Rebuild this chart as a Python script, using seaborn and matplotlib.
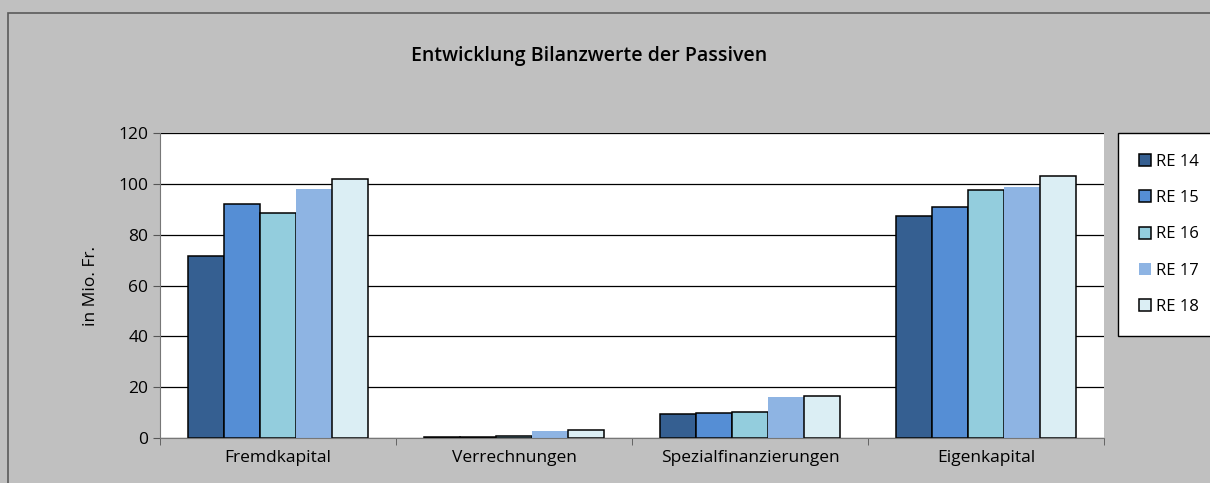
import pandas as pd
import matplotlib.pyplot as plt
import seaborn as sns
from matplotlib.patches import Rectangle

categories = ['Fremdkapital', 'Verrechnungen', 'Spezialfinanzierungen', 'Eigenkapital']
series = ['RE 14', 'RE 15', 'RE 16', 'RE 17', 'RE 18']
re14 = [71.6, 0.3, 9.4, 87.4]
re15 = [92.1, 0.2, 9.8, 91.0]
re16 = [88.6, 0.6, 10.2, 97.6]
re17 = [98.0, 2.7, 16.1, 98.8]
re18 = [102.0, 3.1, 16.5, 103.0]
colors = ['#355f91', '#558ed5', '#93cddd', '#8eb4e3', '#dbeef4']

rows = []
for name, vals in zip(series, [re14, re15, re16, re17, re18]):
    for cat, v in zip(categories, vals):
        rows.append({'Kategorie': cat, 'Jahr': name, 'Wert': v})
df = pd.DataFrame(rows)

sns.set_style('white')
plt.rcParams['font.family'] = ['Open Sans', 'DejaVu Sans']
plt.rcParams['text.color'] = 'black'
plt.rcParams['xtick.color'] = 'black'
plt.rcParams['ytick.color'] = 'black'
plt.rcParams['axes.labelcolor'] = 'black'

fig = plt.figure(figsize=(12.1, 4.83), dpi=100)
fig.patch.set_facecolor('#c0c0c0')
fig.patches.append(Rectangle((8 / 1210, -0.01), 1.0, 1 - 13 / 483 + 0.01, transform=fig.transFigure,
                             fill=False, edgecolor='#5a5a5a', linewidth=1.2))

ax = fig.add_axes([160 / 1210, 45 / 483, 944 / 1210, 305 / 483])
sns.barplot(data=df, x='Kategorie', y='Wert', hue='Jahr', palette=colors, width=0.76,
            edgecolor='black', linewidth=1.1, saturation=1, ax=ax)
for bar in ax.containers[3]:
    bar.set_edgecolor('none')

ax.set_facecolor('white')
ax.set_ylim(0, 120)
ax.set_xlim(-0.5, 3.5)
ax.set_yticks(range(0, 121, 20))
ax.yaxis.grid(True, color='black', linewidth=0.9)
ax.set_axisbelow(True)
ax.set_xlabel('')
ax.set_ylabel('in Mio. Fr.', fontsize=12.5, labelpad=14)
ax.tick_params(axis='y', labelsize=12.5, length=5, color='#555555', direction='out', left=True)
ax.tick_params(axis='x', labelsize=12.5, length=0, pad=9)
ax.set_xticks([-0.5, 0.5, 1.5, 2.5, 3.5], minor=True)
ax.tick_params(axis='x', which='minor', length=5, color='#555555', bottom=True, direction='out')
for s in ['top', 'right']:
    ax.spines[s].set_visible(False)
ax.spines['left'].set_color('#777777')
ax.spines['bottom'].set_color('#777777')

leg = ax.legend(loc='upper left', bbox_to_anchor=(958 / 944, 1.0), borderaxespad=0,
                frameon=True, fancybox=False,
                edgecolor='black', facecolor='white', framealpha=1, fontsize=12,
                handlelength=0.75, handleheight=0.75, labelspacing=1.22, borderpad=1.25,
                handletextpad=0.3)
leg.get_frame().set_linewidth(1.0)
leg.legend_handles[3].set_edgecolor('none')

fig.text(0.487, 0.885, 'Entwicklung Bilanzwerte der Passiven', ha='center', va='center',
         fontsize=14, fontweight='semibold')

fig.savefig('out.png', dpi=100, facecolor=fig.get_facecolor())
